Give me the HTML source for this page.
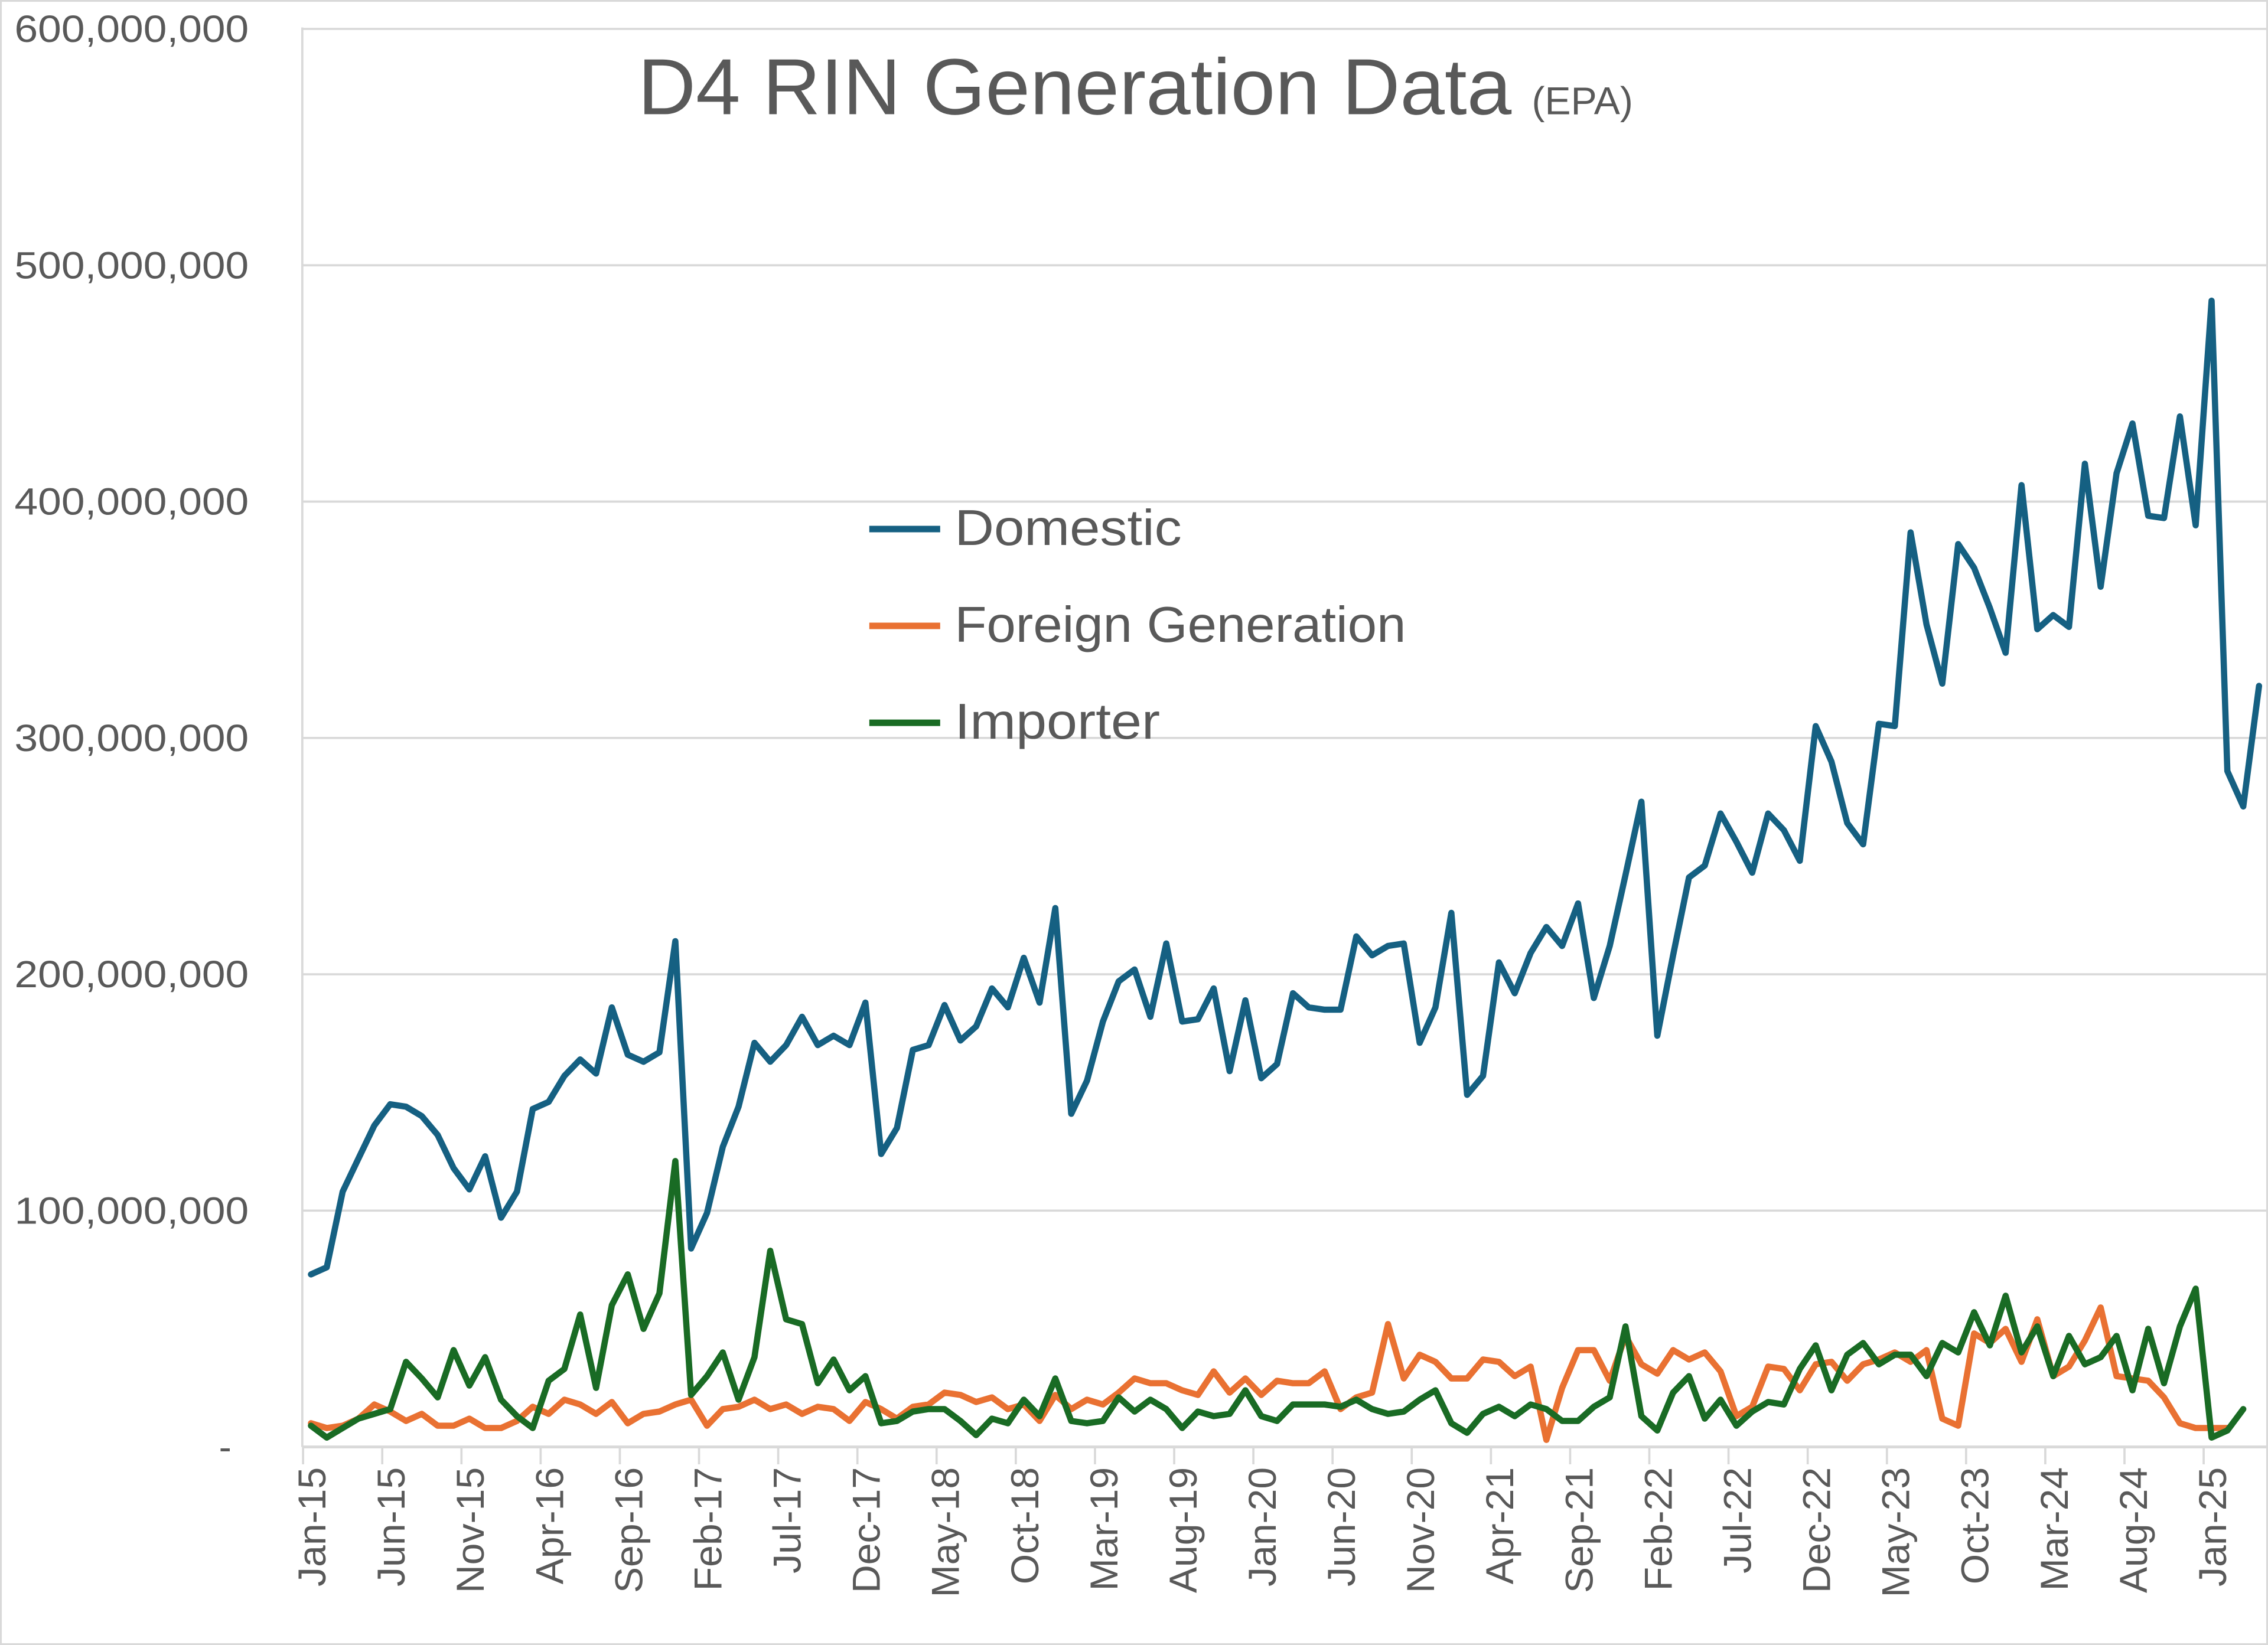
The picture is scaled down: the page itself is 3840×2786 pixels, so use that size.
<!DOCTYPE html>
<html><head><meta charset="utf-8"><style>
html,body{margin:0;padding:0;background:#fff;}
svg{display:block;}
text{font-family:"Liberation Sans",sans-serif;fill:#595959;}
</style></head><body>
<svg id="chart" width="3840" height="2786" viewBox="0 0 1568 1138" preserveAspectRatio="none" xmlns="http://www.w3.org/2000/svg">
<rect x="0.5" y="0.5" width="1567" height="1137" fill="#fff" stroke="#d9d9d9" stroke-width="1.5"/>
<g id="grid"></g>
<g id="axes"></g>
<g id="series"></g>
<text x="441" y="79" font-size="55" textLength="604" lengthAdjust="spacingAndGlyphs">D4 RIN Generation Data</text>
<text x="1059" y="79" font-size="27">(EPA)</text>
<g>
<line x1="601" y1="366" x2="650" y2="366" stroke="#156082" stroke-width="4.5"/>
<text x="660" y="377" font-size="35" textLength="157" lengthAdjust="spacingAndGlyphs">Domestic</text>
<line x1="601" y1="433" x2="650" y2="433" stroke="#E97132" stroke-width="4.5"/>
<text x="660" y="444" font-size="35" textLength="312" lengthAdjust="spacingAndGlyphs">Foreign Generation</text>
<line x1="601" y1="500" x2="650" y2="500" stroke="#196B24" stroke-width="4.5"/>
<text x="660" y="511" font-size="35" textLength="142" lengthAdjust="spacingAndGlyphs">Importer</text>
</g>
</svg>
<script>
const months=["Jan","Feb","Mar","Apr","May","Jun","Jul","Aug","Sep","Oct","Nov","Dec"];
const yTicks=[0,100,200,300,400,500,600];
const yTickLabels=["-","100,000,000","200,000,000","300,000,000","400,000,000","500,000,000","600,000,000"];
const domestic=[73,76,108,122,136,145,144,140,132,118,109,123,97,108,143,146,157,164,158,186,166,163,167,214,84,99,127,144,171,163,170,182,170,174,170,188,124,135,168,170,187,172,178,194,186,207,188,228,141,155,180,197,202,182,213,180,181,194,159,189,156,162,192,186,185,185,216,208,212,213,171,186,226,149,157,205,192,209,220,212,230,190,212,242,273,174,208,241,246,268,256,243,268,261,248,305,290,264,255,306,305,387,348,323,382,372,355,336,407,346,352,347,416,364,412,433,394,393,436,390,485,286,271,322];
const foreign=[10,8,9,12,18,15,11,14,9,9,12,8,8,11,17,14,20,18,14,19,10,14,15,18,20,9,16,17,20,16,18,14,17,16,11,19,16,12,17,18,23,22,19,21,16,18,11,22,16,20,18,23,29,27,27,24,22,32,23,29,22,28,27,27,32,16,21,23,52,29,39,36,29,29,37,36,30,34,3,25,41,41,28,47,35,31,41,37,40,32,13,17,34,33,24,35,36,28,35,37,40,36,41,12,9,48,44,50,36,54,30,34,45,59,30,29,28,21,10,8,8,8];
const importer=[9,4,8,12,14,16,36,29,21,41,26,38,20,13,8,28,33,56,25,60,73,50,65,121,22,30,40,20,38,83,54,52,27,37,24,30,10,11,15,16,16,11,5,12,10,20,13,29,11,10,11,21,15,20,16,8,15,13,14,24,13,11,18,18,18,17,20,16,14,15,20,24,10,6,14,17,13,18,16,11,11,17,21,51,13,7,23,30,12,20,9,15,19,18,33,43,24,39,44,35,39,39,30,44,40,57,43,64,40,51,30,47,35,38,47,24,50,27,51,67,4,7,16];
const NS="http://www.w3.org/2000/svg";
const X0=215, DX=10.95, Y0=1001, PY=1.635;
function xs(i){return X0+i*DX;}
function ys(v){return Y0-v*PY;}
function mk(tag,attrs,parent){const e=document.createElementNS(NS,tag);for(const k in attrs)e.setAttribute(k,attrs[k]);parent.appendChild(e);return e;}
const grid=document.getElementById('grid'), axes=document.getElementById('axes'), ser=document.getElementById('series');
mk('line',{x1:209,y1:19,x2:209,y2:Y0,stroke:'#d9d9d9','stroke-width':1.5},grid);
yTicks.forEach((v,k)=>{
  if(v>0){const g=mk('line',{x1:209,x2:1568,y1:ys(v),y2:ys(v),stroke:'#d9d9d9','stroke-width':1.5},grid);
  
  }
  const attrs={x:v===0?160:172,y:ys(v)+9,'font-size':26,'text-anchor':'end'};
  if(v>0){attrs.textLength=162;attrs.lengthAdjust='spacingAndGlyphs';}
  const t=mk('text',attrs,axes);
  t.textContent=yTickLabels[k];
  
  
});
const ax=mk('line',{x1:209,x2:1568,y1:Y0,y2:Y0,stroke:'#d9d9d9','stroke-width':2},axes);


const n=domestic.length;
for(let i=0;i<n;i+=5){
  const tx=xs(i)-DX/2;
  const tk=mk('line',{x1:tx,x2:tx,y1:Y0,y2:Y0+12,stroke:'#d9d9d9','stroke-width':1.5},axes);
  
  
  const yr=15+Math.floor(i/12);
  const lbl=months[i%12]+'-'+yr;
  const t=mk('text',{x:0,y:0,'font-size':27,'text-anchor':'end',transform:'translate('+(xs(i)+10)+',1015) rotate(-90)'},axes);
  t.textContent=lbl;
  
  
}
function drawSeries(arr,color,name){
  const pts=arr.map((v,i)=>xs(i).toFixed(1)+','+ys(v).toFixed(1)).join(' ');
  const p=mk('polyline',{points:pts,fill:'none',stroke:color,'stroke-width':4.3,'stroke-linejoin':'round','stroke-linecap':'round'},ser);
  
  
}
drawSeries(foreign,'#E97132','foreign-generation-line');
drawSeries(importer,'#196B24','importer-line');
drawSeries(domestic,'#156082','domestic-line');
</script>
</body></html>
